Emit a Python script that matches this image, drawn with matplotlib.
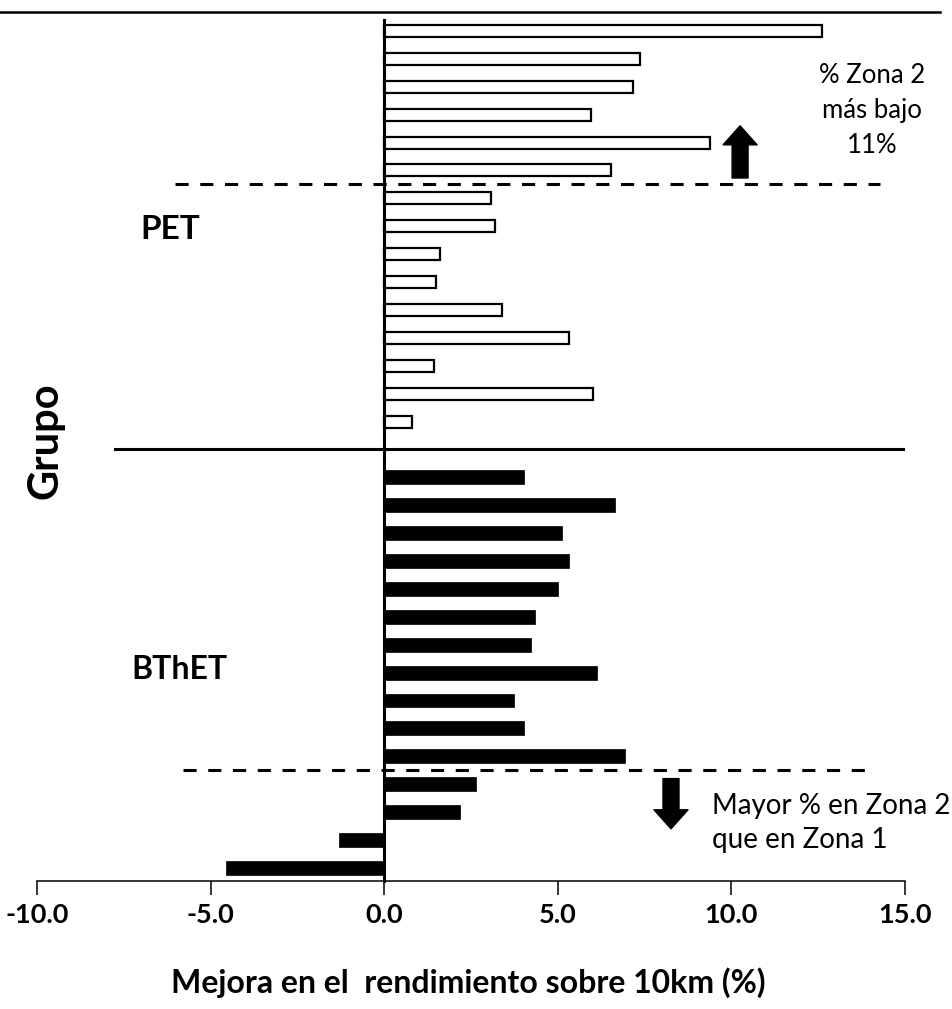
import matplotlib.pyplot as plt
import numpy as np

plt.rcParams['font.family'] = ['Lato', 'DejaVu Sans']

# improvement in 10 km performance (%), one bar per athlete, top to bottom
pet = [12.6, 7.36, 7.18, 5.95, 9.39, 6.53, 3.07, 3.2, 1.62, 1.49, 3.39, 5.33, 1.44, 6.0, 0.8]
bthet = [4.03, 6.64, 5.13, 5.31, 5.01, 4.33, 4.23, 6.13, 3.75, 4.02, 6.94, 2.64, 2.19, -1.29, -4.55]
groups = ['PET', 'BThET']
xticks = [-10, -5, 0, 5, 10, 15]

pet_pos = np.arange(len(pet))
bthet_pos = np.arange(len(bthet)) + len(pet) + 1

fig = plt.figure(figsize=(9.53, 10.09), dpi=100)
ax = fig.add_axes([37 / 953, 128 / 1009, 868 / 953, 881 / 1009])

ax.barh(pet_pos, pet, height=0.43, color='white', edgecolor='black', linewidth=1.6)
ax.barh(bthet_pos, bthet, height=0.5, color='black', edgecolor='black', linewidth=0.5)

ax.set_xlim(-10, 15)
ax.set_ylim(30.47, -1.11)

# vertical zero line
ax.plot([0, 0], [-0.4, 30.47], color='black', lw=2.2, clip_on=False)

# group separators
ax.plot([-7.75, 15], [15, 15], color='black', lw=2.2)
ax.plot([-6.02, 14.28], [5.5, 5.5], color='black', lw=2.2, linestyle=(0, (4.3, 3.8)))
ax.plot([-5.8, 14.15], [26.5, 26.5], color='black', lw=2.2, linestyle=(0, (4.3, 3.8)))

# arrows
ax.annotate('', xy=(10.25, 3.4), xytext=(10.25, 5.27),
            arrowprops=dict(arrowstyle='simple,head_width=2.45,head_length=1.37,tail_width=1.15',
                            color='black', shrinkA=0, shrinkB=0))
ax.annotate('', xy=(8.26, 28.6), xytext=(8.26, 26.8),
            arrowprops=dict(arrowstyle='simple,head_width=2.45,head_length=1.37,tail_width=1.15',
                            color='black', shrinkA=0, shrinkB=0))

ax.text(14.05, 2.85, '% Zona 2\nmás bajo\n11%', ha='center', va='center',
        fontsize=18.5, linespacing=1.5, clip_on=False)
ax.text(9.44, 28.4, 'Mayor % en Zona 2\nque en Zona 1', ha='left', va='center',
        fontsize=20, linespacing=1.4, clip_on=False)

ax.text(-6.15, 7.1, groups[0], ha='center', va='center', fontsize=24, fontweight='bold')
ax.text(-5.9, 22.9, groups[1], ha='center', va='center', fontsize=23, fontweight='bold')

for s in ['top', 'right', 'left']:
    ax.spines[s].set_visible(False)
ax.spines['bottom'].set_linewidth(1.1)
ax.set_yticks([])
ax.set_xticks(xticks)
ax.set_xticklabels([f'{t:.1f}' for t in xticks], fontsize=19.5, fontweight='bold')
ax.tick_params(axis='x', direction='out', length=10, width=1.1, pad=6)

fig.text(46 / 953, 1 - 441 / 1009, 'Grupo', rotation=90, ha='center', va='center',
         fontsize=30, fontweight='bold')
fig.text(468 / 953, 1 - 983 / 1009, 'Mejora en el  rendimiento sobre 10km (%)',
         ha='center', va='center', fontsize=23, fontweight='bold')

# page border line at top
fig.add_artist(plt.Line2D([0, 940 / 953], [1 - 12 / 1009, 1 - 12 / 1009], color='black', lw=1.8))

fig.savefig('out.png', dpi=100)
